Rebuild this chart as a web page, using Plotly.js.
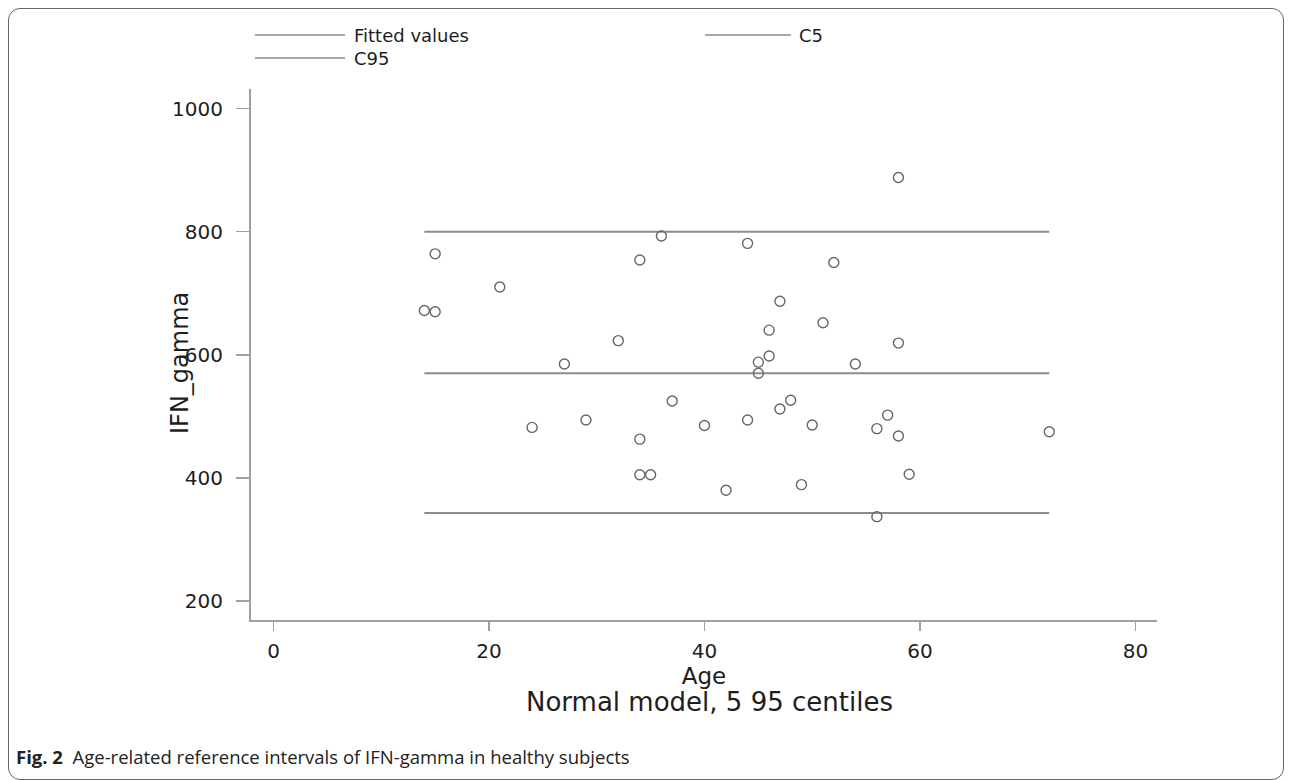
<!DOCTYPE html>
<html>
<head>
<meta charset="utf-8">
<script src="https://cdn.plot.ly/plotly-3.0.1.min.js"></script>
<style>
  html, body { margin: 0; padding: 0; background: #fff; }
  #wrap { position: relative; width: 1292px; height: 780px; }
  #chart { position: absolute; left: 0; top: 0; width: 1292px; height: 780px; }
  #frame { position: absolute; left: 8px; top: 8px; width: 1274px; height: 770px;
           border: 1.5px solid #666; border-radius: 12px; pointer-events: none; }
</style>
</head>
<body>
<div id="wrap">
  <div id="chart"></div>
  <div id="frame"></div>
</div>
<script>
// ---- data ----
const age = [14, 15, 15, 21, 24, 27, 29, 32, 34, 34, 34, 35, 36, 37, 40, 42, 44, 44, 45, 45,
             46, 46, 47, 47, 48, 49, 50, 51, 52, 54, 56, 56, 57, 58, 58, 58, 59, 72];
const ifnGamma = [672, 670, 764, 710, 482, 585, 494, 623, 754, 463, 405, 405, 793, 525, 485, 380, 781, 494, 588, 570,
                  640, 598, 687, 512, 526, 389, 486, 652, 750, 585, 480, 337, 502, 888, 619, 468, 406, 475];
const lineAge = [14, 72];
const fittedValues = [570, 570];
const c5Values = [343, 343];
const c95Values = [800, 800];
const legendLabels = ["Fitted values", "C5", "C95"];
const xTicks = [0, 20, 40, 60, 80];
const yTicks = [200, 400, 600, 800, 1000];

// ---- layout geometry ----
const W = 1292, H = 780;
const M = { l: 251, r: 135, t: 89, b: 160 };
const PW = W - M.l - M.r, PH = H - M.t - M.b;
const px = x => (x - M.l) / PW;
const py = y => (H - M.b - y) / PH;

const lineColor = '#8c8c8c';
const textColor = '#1e1e1e';
const font = 'DejaVu Sans, Liberation Sans, Arial, sans-serif';

const lineTrace = (y, name) => ({
  x: lineAge, y: y, name: name, type: 'scatter', mode: 'lines',
  line: { color: lineColor, width: 2 }, hoverinfo: 'skip', showlegend: false
});

const data = [
  lineTrace(c95Values, legendLabels[2]),
  lineTrace(fittedValues, legendLabels[0]),
  lineTrace(c5Values, legendLabels[1]),
  {
    x: age, y: ifnGamma, type: 'scatter', mode: 'markers', name: 'IFN_gamma', showlegend: false,
    marker: { symbol: 'circle-open', size: 10, color: '#666', line: { width: 1.4, color: '#666' } }
  }
];

// custom legend (long line samples as in the reference)
const legendItems = [
  { x0: 255, x1: 345, y: 35, tx: 352, label: legendLabels[0] },
  { x0: 705, x1: 791, y: 35, tx: 797, label: legendLabels[1] },
  { x0: 255, x1: 345, y: 58, tx: 352, label: legendLabels[2] }
];
const shapes = legendItems.map(it => ({
  type: 'line', xref: 'paper', yref: 'paper',
  x0: px(it.x0), x1: px(it.x1), y0: py(it.y), y1: py(it.y),
  line: { color: '#a8a8a8', width: 2 }
}));
const annotations = legendItems.map(it => ({
  xref: 'paper', yref: 'paper', x: px(it.tx), y: py(it.y),
  xanchor: 'left', yanchor: 'middle', showarrow: false, text: it.label,
  font: { family: font, size: 18, color: textColor }
}));
annotations.push({
  xref: 'paper', yref: 'paper', x: px(180), y: py(363), xanchor: 'center', yanchor: 'middle',
  textangle: -90, showarrow: false, text: 'IFN_gamma',
  font: { family: font, size: 24, color: textColor }
});
annotations.push({
  xref: 'paper', yref: 'paper', x: px(709), y: py(702), xanchor: 'center', yanchor: 'middle',
  showarrow: false, text: 'Normal model, 5 95 centiles',
  font: { family: font, size: 26, color: textColor }
});
annotations.push({
  xref: 'paper', yref: 'paper', x: px(14), y: py(756), xanchor: 'left', yanchor: 'middle',
  showarrow: false, text: '<b>Fig. 2</b>\u00a0\u00a0Age-related reference intervals of IFN-gamma in healthy subjects',
  font: { family: 'Open Sans, Noto Sans, sans-serif', size: 18.5, color: '#222' }
});

const layout = {
  width: W, height: H,
  margin: M,
  paper_bgcolor: 'rgba(0,0,0,0)', plot_bgcolor: '#fff',
  showlegend: false,
  xaxis: {
    range: [-2.09, 82.0], tickvals: xTicks, ticktext: xTicks.map(String),
    showgrid: false, zeroline: false, showline: true, linecolor: '#a0a0a0', linewidth: 2,
    ticks: 'outside', ticklen: 9, tickwidth: 1.5, tickcolor: '#a0a0a0', ticklabelstandoff: 3,
    tickfont: { family: font, size: 20, color: textColor },
    title: { text: 'Age', font: { family: font, size: 23, color: textColor }, standoff: 5 }
  },
  yaxis: {
    range: [169.1, 1031.8], tickvals: yTicks, ticktext: yTicks.map(String),
    showgrid: false, zeroline: false, showline: true, linecolor: '#a0a0a0', linewidth: 2,
    ticks: 'outside', ticklen: 13, tickwidth: 1.5, tickcolor: '#a0a0a0', ticklabelstandoff: 9,
    tickfont: { family: font, size: 20, color: textColor }
  },
  shapes: shapes,
  annotations: annotations
};

Plotly.newPlot('chart', data, layout, { displayModeBar: false, staticPlot: true });
</script>
</body>
</html>
